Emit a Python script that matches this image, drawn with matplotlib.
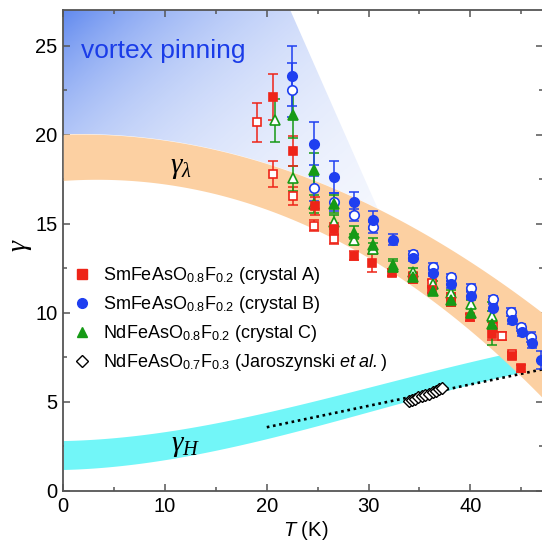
import numpy as np
import matplotlib
matplotlib.use("Agg")
import matplotlib.pyplot as plt
from matplotlib.lines import Line2D
from matplotlib.patches import Polygon
from matplotlib.ticker import MultipleLocator

plt.rcParams["font.family"] = ["Liberation Sans", "DejaVu Sans"]
plt.rcParams["mathtext.fontset"] = "custom"
plt.rcParams["mathtext.rm"] = "Liberation Sans"
plt.rcParams["mathtext.it"] = "Liberation Serif:italic"
plt.rcParams["mathtext.sf"] = "Liberation Sans:italic"
plt.rcParams["mathtext.bf"] = "Liberation Sans:bold"

# ── data ─────────────────────────────────────────────────────────────────────
# SmFeAsO0.8F0.2 crystal A (red)
sm_a_T     = [20.6, 22.6, 24.7, 26.6, 28.6, 30.3, 32.3, 34.4, 36.2, 38.1, 40.0, 42.1, 44.1, 45.0]
sm_a_g     = [22.1, 19.1, 16.0, 14.7, 13.2, 12.8, 12.25, 11.9, 11.3, 10.6, 9.75, 8.8, 7.6, 6.9]
sm_a_err   = [1.3, 0.85, 0.5, 0.35, 0.25, 0.5, 0.2, 0.2, 0.2, 0.2, 0.2, 0.3, 0.2, 0.2]
sm_a_oT    = [19.0, 20.6, 22.6, 24.6, 26.6, 34.4, 36.2, 38.1, 42.2, 43.1, 44.1]
sm_a_og    = [20.7, 17.8, 16.55, 14.9, 14.15, 12.05, 11.65, 10.9, 9.2, 8.7, 7.7]
sm_a_oerr  = [1.1, 0.75, 0.5, 0.3, 0.3, 0.2, 0.2, 0.2, 0.3, 0.2, 0.1]

# SmFeAsO0.8F0.2 crystal B (blue)
sm_b_T     = [22.5, 24.6, 26.6, 28.6, 30.4, 32.4, 34.4, 36.3, 38.1, 40.1, 42.2, 44.1, 45.1, 46.1, 47.0]
sm_b_g     = [23.3, 19.5, 17.6, 16.2, 15.2, 14.1, 13.1, 12.25, 11.6, 10.95, 10.3, 9.6, 8.9, 8.3, 7.35]
sm_b_err   = [1.7, 1.2, 0.9, 0.6, 0.5, 0.3, 0.2, 0.2, 0.2, 0.2, 0.2, 0.2, 0.2, 0.3, 0.5]
sm_b_oT    = [22.5, 24.6, 26.6, 28.6, 30.4, 34.4, 36.3, 38.1, 40.1, 42.2, 44.0, 45.0, 46.0]
sm_b_og    = [22.5, 17.0, 16.2, 15.5, 14.8, 13.3, 12.6, 12.0, 11.4, 10.75, 10.05, 9.2, 8.65]
sm_b_oerr  = [1.5, 0.7, 0.5, 0.35, 0.3, 0.2, 0.2, 0.2, 0.2, 0.2, 0.2, 0.2, 0.3]

# NdFeAsO0.8F0.2 crystal C (green)
nd_c_T     = [22.6, 24.6, 26.6, 28.6, 30.4, 32.4, 34.4, 36.3, 38.1, 40.1, 42.1]
nd_c_g     = [21.1, 18.0, 16.1, 14.5, 13.8, 12.6, 12.0, 11.2, 10.7, 10.0, 9.4]
nd_c_err   = [1.3, 1.0, 0.5, 0.35, 0.4, 0.3, 0.25, 0.2, 0.3, 0.3, 1.2]
nd_c_oT    = [20.85, 22.6, 24.6, 26.6, 28.6, 30.4, 32.4, 34.4, 36.3, 38.1, 40.1, 42.1]
nd_c_og    = [20.8, 17.55, 16.1, 15.1, 14.1, 13.6, 12.7, 12.3, 11.6, 11.1, 10.5, 9.8]
nd_c_oerr  = [1.2, 0.7, 0.5, 0.4, 0.3, 0.3, 0.3, 0.2, 0.2, 0.2, 0.2, 0.3]

# NdFeAsO0.7F0.3 (Jaroszynski et al.)
jar_T = [34.0, 34.3, 34.6, 34.9, 35.3, 35.6, 35.9, 36.3, 36.6, 36.9, 37.25]
jar_g = [5.03, 5.1, 5.17, 5.25, 5.32, 5.4, 5.47, 5.55, 5.62, 5.7, 5.78]

# dotted guide line
dot_T = [20.0, 47.1]
dot_g = [3.58, 6.83]

# band edges
band_T      = [0, 10, 20, 25, 30, 35, 40, 45, 48]
lam_upper   = [20.05, 19.6, 18.5, 17.4, 16.0, 14.6, 12.9, 10.9, 9.6]
lam_lower   = [17.5, 17.05, 15.8, 14.8, 13.3, 11.0, 8.9, 6.4, 4.8]
h_upper     = [2.8, 3.45, 4.25, 5.2, 5.8, 6.5, 7.35, 7.9, 8.2]
h_lower     = [1.18, 1.85, 2.85, 3.7, 4.4, 5.2, 6.1, 6.65, 7.0]
pin_top_T   = 22.3     # where the pinning wedge meets the top axis
pin_tip     = (31.1, 15.6)

RED   = "#ee2418"
BLUE  = "#1f3ff0"
GREEN = "#169a16"
ORANGE = "#fcd0a2"
CYAN  = "#72f6f8"

fig = plt.figure(figsize=(5.42, 5.41), dpi=100)
ax = fig.add_axes([63.3 / 542, 50 / 541, 479.2 / 542, 481 / 541])
ax.set_xlim(0, 47.1)
ax.set_ylim(0, 27.0)

tt = np.linspace(0, 48, 300)
lam_up = np.polyval(np.polyfit(band_T, lam_upper, 3), tt)
lam_lo = np.polyval(np.polyfit(band_T, lam_lower, 3), tt)
h_up = np.polyval(np.polyfit(band_T, h_upper, 3), tt)
h_lo = np.polyval(np.polyfit(band_T, h_lower, 3), tt)

# vortex pinning gradient wedge
gx = np.linspace(0, 32, 320)
gy = np.linspace(14, 28, 200)
GX, GY = np.meshgrid(gx, gy)
alpha = np.exp(-(0.05 * GX + 0.1 * (27.0 - GY)))
rgba = np.zeros(GX.shape + (4,))
rgba[..., 0] = 0.38
rgba[..., 1] = 0.54
rgba[..., 2] = 0.94
rgba[..., 3] = np.clip(alpha, 0, 1)
im = ax.imshow(rgba, extent=(0, 32, 14, 28), origin="lower", aspect="auto",
               interpolation="bilinear", zorder=1)
mask = tt <= pin_tip[0]
wedge = [(0, 28), (pin_top_T - 1.0 / 1.3, 28), pin_tip] + \
        list(zip(tt[mask][::-1], lam_up[mask][::-1]))
clip = Polygon(wedge, closed=True, transform=ax.transData, facecolor="none", edgecolor="none")
ax.add_patch(clip)
im.set_clip_path(clip)

# bands
ax.fill_between(tt, h_lo, h_up, color=CYAN, lw=0, zorder=2)
ax.fill_between(tt, lam_lo, lam_up, color=ORANGE, lw=0, zorder=3)

ax.plot(dot_T, dot_g, ls=(0, (1, 1.4)), color="black", lw=1.9, zorder=4)


def series(T, g, err, color, marker, ms, filled):
    ax.errorbar(T, g, yerr=err, fmt="none", ecolor=color, elinewidth=1.1,
                capsize=3.5, capthick=1.1, zorder=5)
    ax.plot(T, g, ls="none", marker=marker, ms=ms,
            mfc=color if filled else "white", mec=color, mew=1.2, zorder=6)


series(sm_a_oT, sm_a_og, sm_a_oerr, RED, "s", 6.2, False)
series(nd_c_oT, nd_c_og, nd_c_oerr, GREEN, "^", 6.5, False)
series(sm_b_oT, sm_b_og, sm_b_oerr, BLUE, "o", 6.8, False)
series(sm_a_T, sm_a_g, sm_a_err, RED, "s", 6.2, True)
series(nd_c_T, nd_c_g, nd_c_err, GREEN, "^", 6.5, True)
series(sm_b_T, sm_b_g, sm_b_err, BLUE, "o", 6.8, True)

ax.plot(jar_T, jar_g, ls="none", marker="D", ms=6.3, mfc="white", mec="black", mew=1.0, zorder=7)

# labels
ax.text(1.7, 24.7, "vortex pinning", color="#1a3ce8", fontsize=19, va="center", zorder=8)
ax.text(11.6, 18.2, r"$\gamma_\lambda$", fontsize=21, ha="center", va="center", zorder=8)
ax.text(12.0, 2.6, r"$\gamma_H$", fontsize=21, ha="center", va="center", zorder=8)

handles = [
    Line2D([], [], ls="none", marker="s", ms=6.5, color=RED),
    Line2D([], [], ls="none", marker="o", ms=7, color=BLUE),
    Line2D([], [], ls="none", marker="^", ms=7, color=GREEN),
    Line2D([], [], ls="none", marker="D", ms=6, mfc="white", mec="black", mew=1.0),
]
labels = [
    r"SmFeAsO$_{0.8}$F$_{0.2}$ (crystal A)",
    r"SmFeAsO$_{0.8}$F$_{0.2}$ (crystal B)",
    r"NdFeAsO$_{0.8}$F$_{0.2}$ (crystal C)",
    r"NdFeAsO$_{0.7}$F$_{0.3}$ (Jaroszynski $\mathsf{et\ al.}$)",
]
leg = ax.legend(handles, labels, loc="upper left", bbox_to_anchor=(74 / 542, 1 - 265 / 541),
                bbox_transform=fig.transFigure, frameon=False, fontsize=13,
                handlelength=0.9, handletextpad=0.7, labelspacing=0.45,
                borderpad=0, borderaxespad=0)
leg.set_zorder(9)

# axes styling
for s in ax.spines.values():
    s.set_color("#555555")
    s.set_linewidth(1.3)
ax.spines["right"].set_visible(False)
ax.xaxis.set_major_locator(MultipleLocator(10))
ax.xaxis.set_minor_locator(MultipleLocator(5))
ax.yaxis.set_major_locator(MultipleLocator(5))
ax.yaxis.set_minor_locator(MultipleLocator(2.5))
ax.tick_params(which="both", direction="in", top=True, right=True, color="#555555",
               labelsize=14.5, width=1.1)
ax.tick_params(which="major", length=5, pad=4)
ax.tick_params(which="minor", length=3)

ax.set_xlabel(r"$\mathsf{T}$ (K)", fontsize=14.5)
ax.xaxis.set_label_coords(0.505, -0.058)
ax.set_ylabel(r"$\gamma$", fontsize=20, rotation=90)
ax.yaxis.set_label_coords(-0.062, 0.51)

fig.savefig("out.png", dpi=100)
